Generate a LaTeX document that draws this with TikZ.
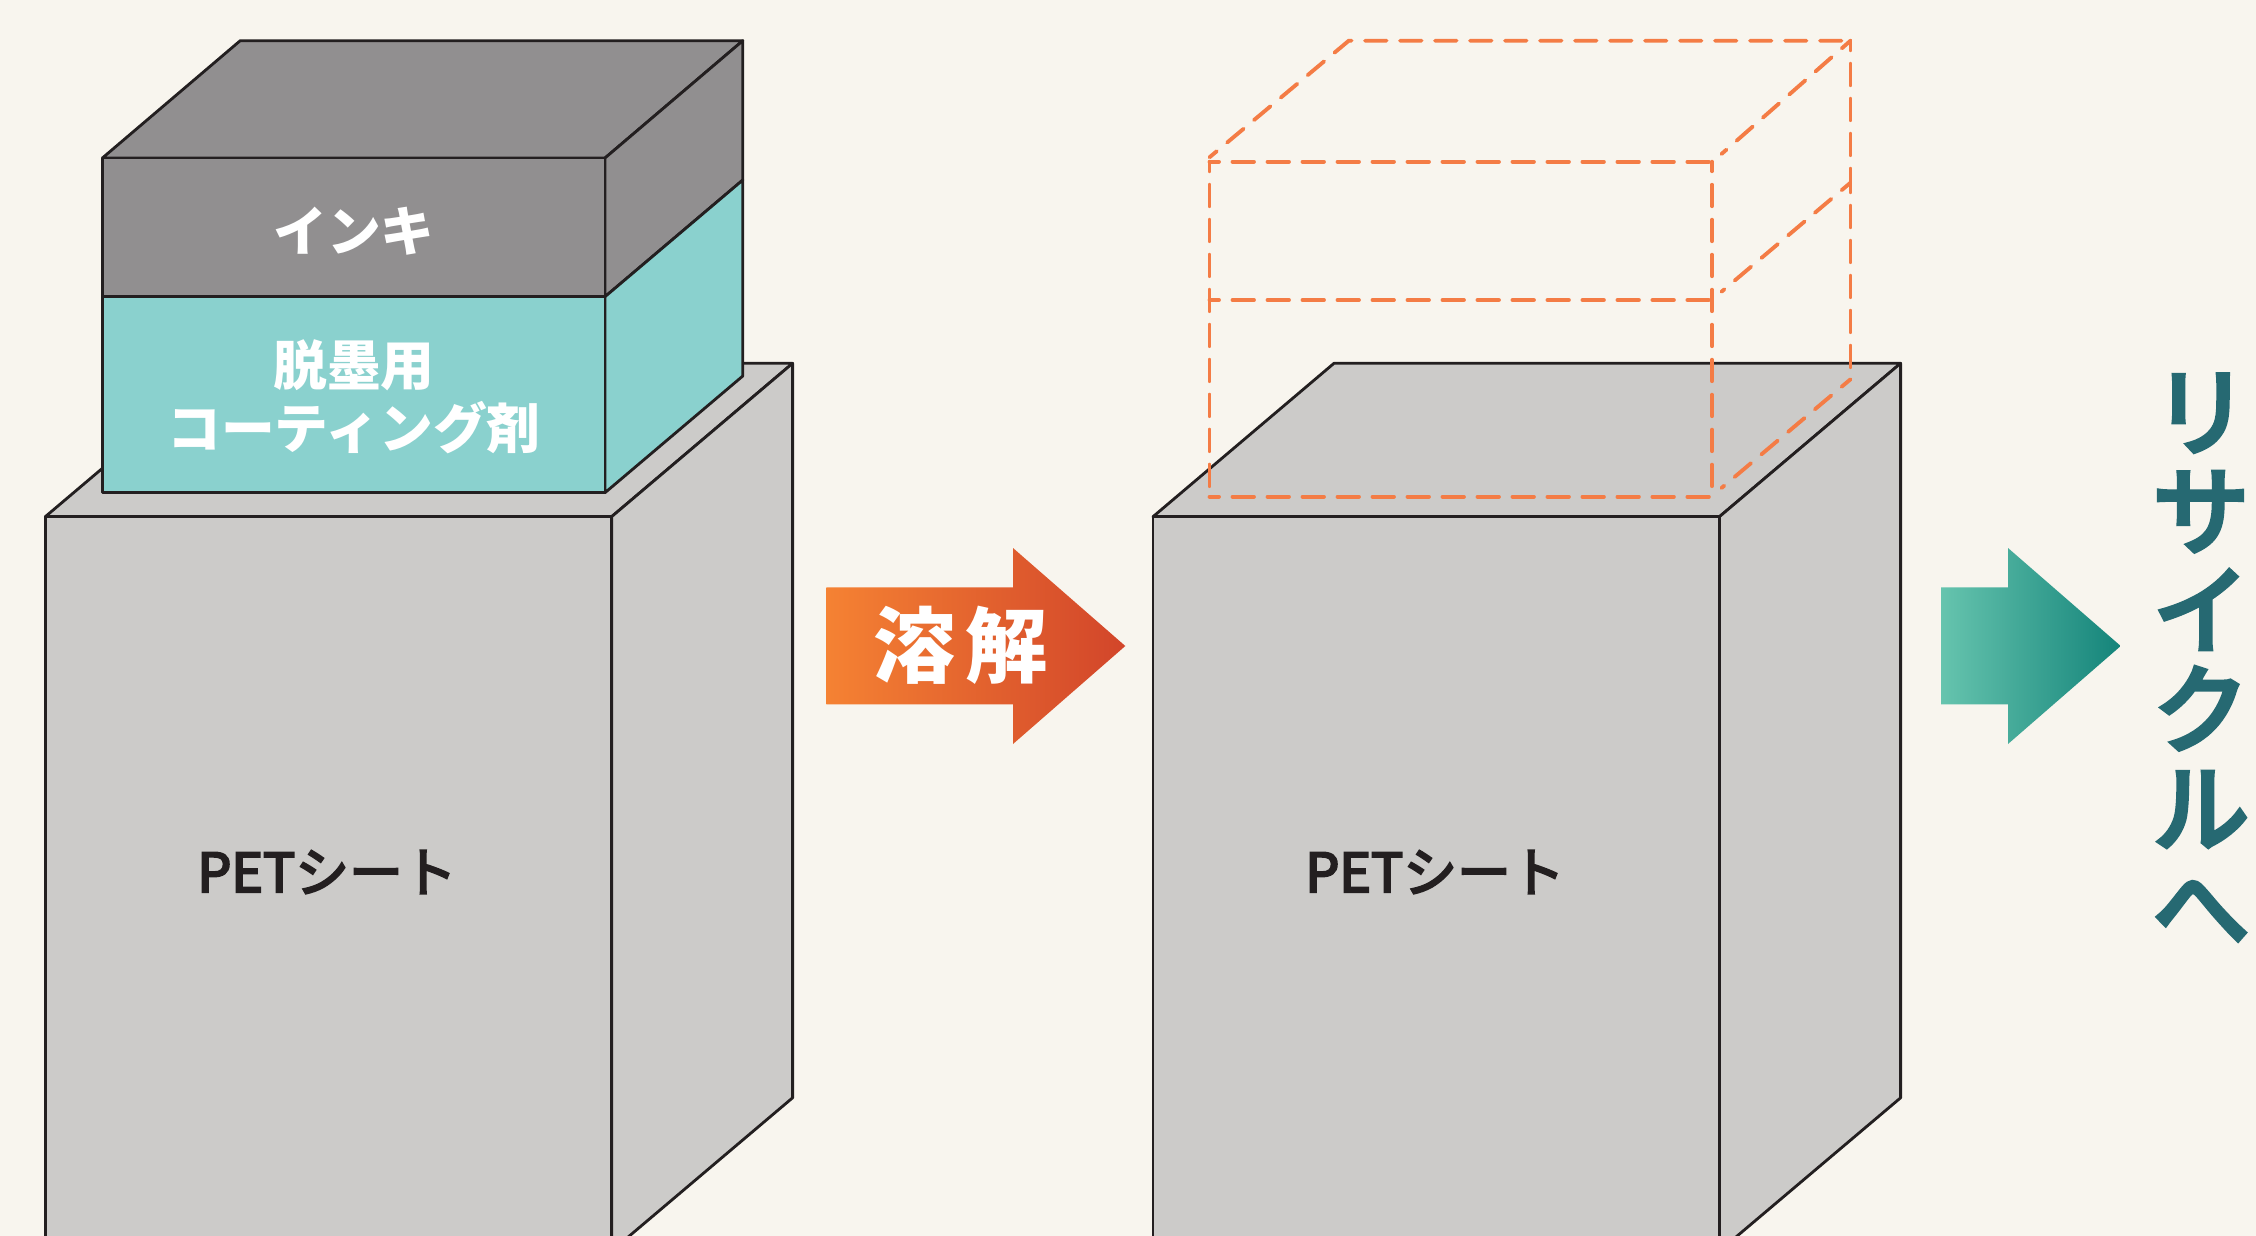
\documentclass[tikz,border=0pt]{standalone}
\usepackage{fontspec}
\setmainfont{Noto Sans CJK JP}
\newfontfamily\jpmedium[FakeBold=4]{Noto Sans CJK JP}
\newfontfamily\jpsemi[FakeBold=5.5]{Noto Sans CJK JP}
\usetikzlibrary{calc}
\definecolor{paper}{HTML}{F8F5EE}
\definecolor{inkgray}{HTML}{918F90}
\definecolor{coatteal}{HTML}{8AD1CE}
\definecolor{sheetgray}{HTML}{CCCBC9}
\definecolor{edgeblack}{HTML}{231F20}
\definecolor{dashorange}{HTML}{F47C45}
\definecolor{recycleblue}{HTML}{266972}
\definecolor{meltstart}{HTML}{F58233}
\definecolor{meltend}{HTML}{D2452A}
\definecolor{cyclestart}{HTML}{66C4AE}
\definecolor{cycleend}{HTML}{14847A}
\tikzset{
	face/.style={draw=edgeblack, line width=0.8pt, line join=round},
	ghost/.style={draw=dashorange, line width=1.1pt, line cap=round, dash pattern=on 6.1pt off 3.85pt},
	ghostedge/.style={ghost, dash phase=3.4pt},
	ghostslant/.style={ghost, dash phase=2.8pt},
	jptext/.style={font=\fontsize{15.3}{17.9}\selectfont\jpmedium, align=center},
	jplabel/.style={font=\fontsize{15.3}{17.9}\selectfont\bfseries, align=center, text=white},
}

\begin{document}
\begin{tikzpicture}[x=0.01cm,y=-0.01cm,inner sep=0in,outer sep=0in]
	\useasboundingbox (0,0) rectangle (2256,1236);
	\clip (0,0) rectangle (2256,1236);
	\fill[paper] (0,0) rectangle (2256,1236);

	\draw[face, fill=sheetgray] (45.3,516.7)--(226.3,363.3)--(792.6,363.3)--(611.6,516.7)--cycle;
	\draw[face, fill=sheetgray] (611.6,516.7)--(792.6,363.3)--(792.6,1097.8)--(611.6,1251)--cycle;
	\draw[face, fill=sheetgray] (45.3,516.7) rectangle (611.6,1260);
	\node[jptext, text=edgeblack] at (327,872) (sheet_l) {PETシート};

	\draw[face, fill=inkgray] (102.4,158)--(240.2,40.7)--(742.8,40.7)--(605,158)--cycle;
	\draw[face, fill=inkgray] (605,158)--(742.8,40.7)--(742.8,180)--(605,296.7)--cycle;
	\draw[face, fill=coatteal] (605,296.7)--(742.8,180)--(742.8,376)--(605,492.7)--cycle;
	\draw[face, fill=inkgray] (102.4,158) rectangle (605,296.7);
	\draw[face, fill=coatteal] (102.4,296.7) rectangle (605,492.7);
	\node[jplabel] at (354,231) (ink) {インキ};
	\node[jplabel] at (354,397) (coat) {脱墨用\\コーティング剤};

	\shade[left color=meltstart, right color=meltend]
		(826.3,587.3)--(1013,587.3)--(1013,548)--(1125.3,646)--(1013,744)--(1013,704.3)--(826.3,704.3)--cycle;
	\node[text=white, font=\fontsize{23.4}{26}\selectfont\bfseries] at (961,645) (melt) {溶\kern2.8pt解};

	\draw[face, fill=sheetgray] (1153,516.7)--(1334,363.3)--(1900.6,363.3)--(1719.4,516.7)--cycle;
	\draw[face, fill=sheetgray] (1719.4,516.7)--(1900.6,363.3)--(1900.6,1097.8)--(1719.4,1251)--cycle;
	\draw[face, fill=sheetgray] (1153,516.7) rectangle (1719.4,1260);
	\node[jptext, text=edgeblack] at (1435,872) (sheet_r) {PETシート};

	\draw[ghostedge] (1209.5,161.7)--(1712,161.7);
	\draw[ghostedge] (1209.5,300)--(1712,300);
	\draw[ghostedge] (1209.5,496.7)--(1712,496.7);
	\draw[ghostedge] (1209.5,161.7)--(1209.5,496.7);
	\draw[ghostedge] (1712,161.7)--(1712,496.7);
	\draw[ghostedge] (1209.5,157.3)--(1348.8,40.7)--(1850.5,40.7);
	\draw[ghostslant] (1850.5,40.7)--(1721.5,154);
	\draw[ghostslant] (1850.5,182.7)--(1721.5,291.7);
	\draw[ghostslant] (1850.5,379.3)--(1721.5,488);
	\draw[ghostedge] (1850.5,40.7)--(1850.5,182.7);
	\draw[ghostedge] (1850.5,182.7)--(1850.5,379.3);

	\shade[left color=cyclestart, right color=cycleend]
		(1941,587.3)--(2008,587.3)--(2008,548)--(2120.7,646)--(2008,744)--(2008,704.3)--(1941,704.3)--cycle;
	\node[text=recycleblue, align=center, font=\fontsize{27.2}{28.2}\selectfont\jpsemi] at (2201,659) (recycle) {リ\\サ\\イ\\ク\\ル\\へ};
\end{tikzpicture}
\end{document}
